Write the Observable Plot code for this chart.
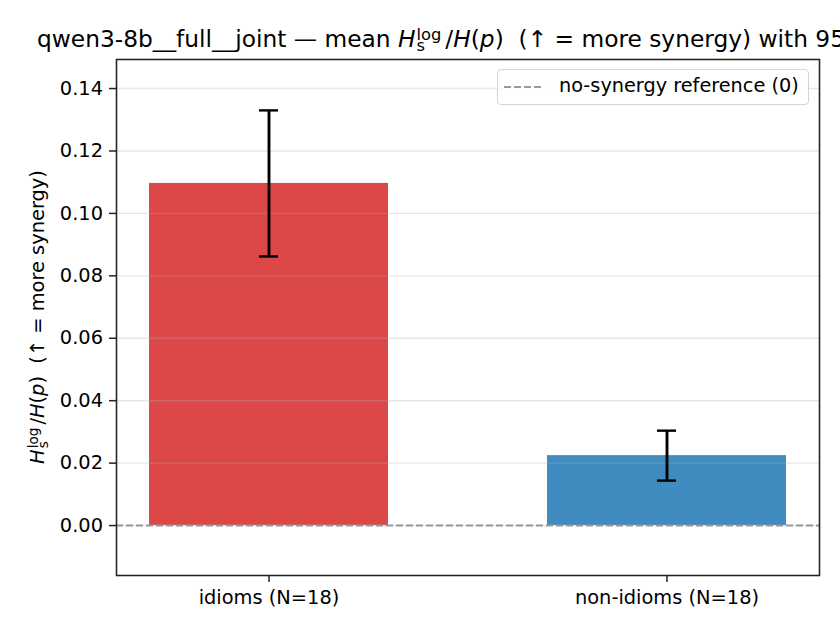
<!DOCTYPE html>
<html>
<head>
<meta charset="utf-8">
<script src="https://cdn.jsdelivr.net/npm/d3@7"></script>
<script src="https://cdn.jsdelivr.net/npm/@observablehq/plot@0.6"></script>
<style>
  html, body { margin: 0; padding: 0; background: #fff; }
  body { font-family: "DejaVu Sans", sans-serif; }
  #wrap { position: relative; width: 840px; height: 630px; overflow: hidden; background: #fff; }
  #title { position: relative; z-index: 2; height: 50px; width: 840px; overflow: visible; }
  #title .t { position: absolute; left: 37px; top: 25px; font-size: 23.3px; line-height: 1.2;
              white-space: pre; color: #000; }
  #chart { position: relative; z-index: 1; }
  .ss { display: inline-flex; flex-direction: column; font-size: 0.7em; line-height: 0.68;
        vertical-align: 0.42em; font-style: normal; margin-left: 1px; margin-right: 4px; }
  #ylab { position: absolute; z-index: 2; left: 38px; top: 317px; transform: translate(-50%, -50%) rotate(-90deg);
          font-size: 19.4px; line-height: 1.2; white-space: pre; color: #000; }
  #ylab .ss { margin-right: 3px; }
  #legend { position: absolute; z-index: 3; left: 497px; top: 69px; width: 310px; height: 34px;
            border: 1px solid #d4d4d4; border-radius: 4px; background: rgba(255,255,255,0.85);
            font-size: 19.3px; }
  #legend svg { position: absolute; left: 6px; top: 15px; }
  #legend span { position: absolute; left: 61px; top: 4px; white-space: pre; }
</style>
</head>
<body>
<div id="wrap">
  <div id="title"><div class="t">qwen3-8b__full__joint — mean <i>H</i><span class="ss"><span>log</span><span>s</span></span>/<i>H</i>(<i>p</i>)  (↑ = more synergy) with 95% CI</div></div>
  <div id="chart"></div>
  <div id="ylab"><i>H</i><span class="ss"><span>log</span><span>s</span></span>/<i>H</i>(<i>p</i>)  (↑ = more synergy)</div>
  <div id="legend"><svg width="40" height="4"><line x1="0" x2="39" y1="2" y2="2" stroke="#999" stroke-width="1.9" stroke-dasharray="7,3"/></svg><span>no-synergy reference (0)</span></div>
</div>
<script>
const categories = ["idioms (N=18)", "non-idioms (N=18)"];
const means = [0.1096, 0.0224];
const ciLow = [0.0862, 0.0144];
const ciHigh = [0.1330, 0.0304];
const colors = ["#d62728", "#1f77b4"];
const yTicks = [0.00, 0.02, 0.04, 0.06, 0.08, 0.10, 0.12, 0.14];
const yDomain = [-0.016, 0.1493];

const data = categories.map((c, i) => ({cat: c, mean: means[i], lo: ciLow[i], hi: ciHigh[i], color: colors[i]}));

const chart = Plot.plot({
  width: 840,
  height: 580,
  marginLeft: 116,
  marginRight: 21,
  marginTop: 9,
  marginBottom: 55,
  style: {fontFamily: "DejaVu Sans", fontSize: "19.4px", color: "#000", background: "transparent", overflow: "visible"},
  x: {domain: categories, paddingInner: 0.4, paddingOuter: 0.081, axis: null},
  y: {domain: yDomain, axis: null},
  marks: [
    Plot.barY(data, {x: "cat", y: "mean", fill: d => d.color, fillOpacity: 0.85, inset: 0}),
    Plot.ruleY(yTicks, {stroke: "#b0b0b0", strokeOpacity: 0.3, strokeWidth: 1.4}),
    Plot.ruleY([0], {stroke: "#999", strokeWidth: 1.9, strokeDasharray: "7,3"}),
    Plot.ruleX(data, {x: "cat", y1: "lo", y2: "hi", stroke: "#000", strokeWidth: 2.9}),
    Plot.tickY(data, {x: "cat", y: "lo", stroke: "#000", strokeWidth: 2.4, insetLeft: 110, insetRight: 110}),
    Plot.tickY(data, {x: "cat", y: "hi", stroke: "#000", strokeWidth: 2.4, insetLeft: 110, insetRight: 110}),
    Plot.axisY({ticks: yTicks, tickFormat: d3.format(".2f"), tickSize: 7, tickPadding: 6.5, label: null, stroke: "#222", strokeWidth: 1.5, fontSize: 19.4, fill: "#000"}),
    Plot.axisX({tickSize: 7, tickPadding: 8, label: null, stroke: "#222", strokeWidth: 1.5, fontSize: 19.4, fill: "#000"}),
    Plot.frame({stroke: "#222", strokeWidth: 1.56})
  ]
});
document.getElementById("chart").appendChild(chart);
</script>
</body>
</html>
